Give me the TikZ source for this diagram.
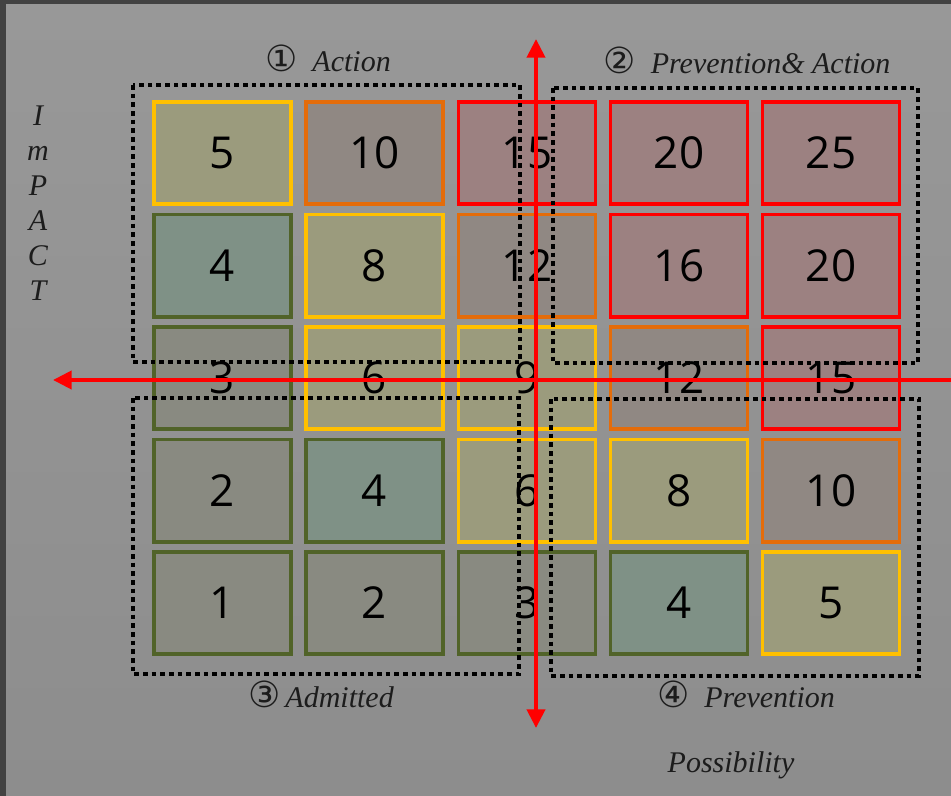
\documentclass[tikz,border=0pt]{standalone}
\usepackage{fontspec}
\setmainfont{Liberation Serif}
\newfontfamily\numfont{Open Sans}
\newfontfamily\symfont{DejaVu Sans}
\usetikzlibrary{arrows.meta}

\definecolor{framegray}{HTML}{424242}
\definecolor{bgtop}{HTML}{989898}
\definecolor{bgbot}{HTML}{8D8D8D}
\definecolor{yline}{HTML}{FFC000}
\definecolor{oline}{HTML}{E46C0A}
\definecolor{rline}{HTML}{FF0000}
\definecolor{gline}{HTML}{516329}
\definecolor{yfill}{HTML}{9B9B7D}
\definecolor{ofill}{HTML}{908883}
\definecolor{rfill}{HTML}{9C8181}
\definecolor{tfill}{HTML}{7F9186}
\definecolor{gfill}{HTML}{898A81}
\definecolor{inkgray}{HTML}{1C1C1C}

\newcommand{\circnum}[1]{{\symfont\fontsize{27}{30}\selectfont #1}}

\tikzset{
	cellbox/.style={draw, line width=2.7pt, minimum width=103pt, minimum height=76.8pt, inner sep=0pt, font=\numfont\fontsize{33}{36}\selectfont},
	ycell/.style={cellbox, draw=yline, fill=yfill},
	ocell/.style={cellbox, draw=oline, fill=ofill},
	rcell/.style={cellbox, draw=rline, fill=rfill},
	tcell/.style={cellbox, draw=gline, fill=tfill},
	gcell/.style={cellbox, draw=gline, fill=gfill},
	zonebox/.style={draw=black, line width=2.6pt, dash pattern=on 3.6pt off 2.9pt},
	zonelabel/.style={anchor=base, text=inkgray, font=\fontsize{22.5}{25}\selectfont\itshape},
	axisarrow/.style={draw=rline, line width=3pt},
}

\begin{document}
\begin{tikzpicture}[x=0.75pt, y=-0.75pt]

	\useasboundingbox (0,0) rectangle (951,796);
	\fill[framegray] (0,0) rectangle (951,796);
	\shade[top color=bgtop, bottom color=bgbot] (6,4) rectangle (951,796);

	% risk cells, row by row from the top
	\node[ycell] (c11) at (222.5,153) {5};
	\node[ocell] (c12) at (374.5,153) {10};
	\node[rcell] (c13) at (527,153) {15};
	\node[rcell] (c14) at (679,153) {20};
	\node[rcell] (c15) at (831,153) {25};
	\node[tcell] (c21) at (222.5,265.5) {4};
	\node[ycell] (c22) at (374.5,265.5) {8};
	\node[ocell] (c23) at (527,265.5) {12};
	\node[rcell] (c24) at (679,265.5) {16};
	\node[rcell] (c25) at (831,265.5) {20};
	\node[gcell] (c31) at (222.5,378) {3};
	\node[ycell] (c32) at (374.5,378) {6};
	\node[ycell] (c33) at (527,378) {9};
	\node[ocell] (c34) at (679,378) {12};
	\node[rcell] (c35) at (831,378) {15};
	\node[gcell] (c41) at (222.5,490.5) {2};
	\node[tcell] (c42) at (374.5,490.5) {4};
	\node[ycell] (c43) at (527,490.5) {6};
	\node[ycell] (c44) at (679,490.5) {8};
	\node[ocell] (c45) at (831,490.5) {10};
	\node[gcell] (c51) at (222.5,603) {1};
	\node[gcell] (c52) at (374.5,603) {2};
	\node[gcell] (c53) at (527,603) {3};
	\node[tcell] (c54) at (679,603) {4};
	\node[ycell] (c55) at (831,603) {5};

	% zones
	\draw[zonebox] (133,85) rectangle (520,362);
	\draw[zonebox] (553,88) rectangle (918,363);
	\draw[zonebox] (133,398) rectangle (519,674);
	\draw[zonebox] (551,399) rectangle (919,676);

	\node[zonelabel] (zact) at (328,71) {\circnum{①}\enspace Action};
	\node[zonelabel] (zboth) at (747,73) {\circnum{②}\enspace Prevention\& Action};
	\node[zonelabel] (zadm) at (321,707) {\circnum{③}\,Admitted};
	\node[zonelabel] (zprev) at (746,707) {\circnum{④}\enspace Prevention};

	% axes
	\coordinate (vtop) at (536,39);
	\coordinate (vbot) at (536,728);
	\coordinate (hright) at (951,380);
	\coordinate (hleft) at (53,380);
	\draw[axisarrow, {Triangle[length=14pt, width=13.5pt]}-{Triangle[length=14pt, width=13.5pt]}] (vtop) -- (vbot);
	\draw[axisarrow, -{Triangle[length=14pt, width=13.5pt]}] (hright) -- (hleft);

	\node[zonelabel] (imp1) at (38,125) {I};
	\node[zonelabel] (imp2) at (38,160) {m};
	\node[zonelabel] (imp3) at (38,195) {P};
	\node[zonelabel] (imp4) at (38,230) {A};
	\node[zonelabel] (imp5) at (38,265) {C};
	\node[zonelabel] (imp6) at (38,300) {T};
	\node[zonelabel] (poss) at (731,772) {Possibility};

\end{tikzpicture}
\end{document}
